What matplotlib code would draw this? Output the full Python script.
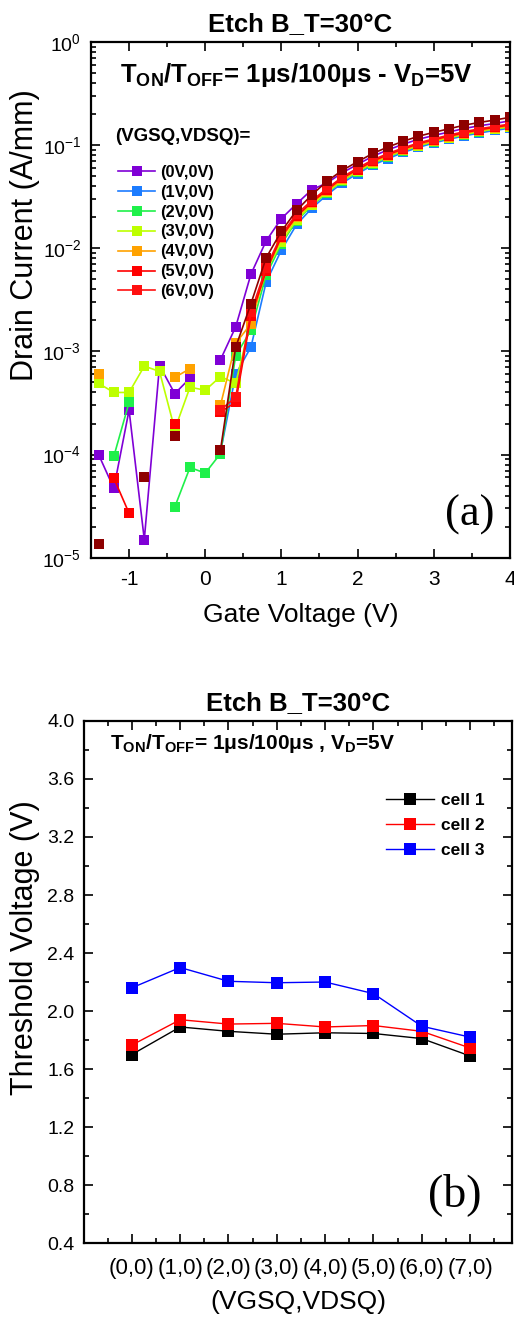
import numpy as np
import matplotlib
matplotlib.use("Agg")
import matplotlib.pyplot as plt
from matplotlib.ticker import MultipleLocator, LogLocator, NullFormatter, FormatStrFormatter
from matplotlib.lines import Line2D

plt.rcParams['font.family'] = ['Liberation Sans', 'DejaVu Sans']
plt.rcParams['mathtext.fontset'] = 'custom'
plt.rcParams['mathtext.rm'] = 'Liberation Sans'
plt.rcParams['mathtext.bf'] = 'Liberation Sans:bold'
plt.rcParams['axes.unicode_minus'] = False

nan = np.nan

# ---- panel (a): drain current vs gate voltage ----
gate_v = [-1.4, -1.2, -1.0, -0.8, -0.6, -0.4, -0.2, 0.0, 0.2, 0.4, 0.6, 0.8, 1.0, 1.2,
          1.4, 1.6, 1.8, 2.0, 2.2, 2.4, 2.6, 2.8, 3.0, 3.2, 3.4, 3.6, 3.8, 4.0]

id_0v = [1.0e-4, 4.7e-5, 2.7e-4, 1.5e-5, 7.3e-4, 3.9e-4, 5.5e-4, nan, 8.3e-4, 1.73e-3, 5.6e-3, 1.18e-2, 1.94e-2, 2.7e-2,
         3.7e-2, 4.3e-2, 5.4e-2, 6.5e-2, 7.8e-2, 9.0e-2, 0.102, 0.114, 0.124, 0.134, 0.145, 0.154, 0.162, 0.172]
id_1v = [nan, nan, nan, nan, nan, nan, nan, nan, 1.05e-4, 6.0e-4, 1.1e-3, 4.7e-3, 9.6e-3, 1.7e-2,
         2.45e-2, 3.3e-2, 4.3e-2, 5.3e-2, 6.4e-2, 7.4e-2, 8.5e-2, 9.5e-2, 0.105, 0.114, 0.123, 0.131, 0.139, 0.146]
id_2v = [nan, 9.6e-5, 3.2e-4, nan, nan, 3.1e-5, 7.5e-5, 6.6e-5, 1.02e-4, 9.1e-4, 1.6e-3, 5.5e-3, 1.1e-2, 1.85e-2,
         2.6e-2, 3.45e-2, 4.5e-2, 5.5e-2, 6.6e-2, 7.7e-2, 8.8e-2, 9.8e-2, 0.108, 0.117, 0.126, 0.135, 0.143, 0.150]
id_3v = [4.9e-4, 4.0e-4, 4.0e-4, 7.2e-4, 6.4e-4, 1.75e-4, 4.5e-4, 4.2e-4, 5.7e-4, 4.9e-4, 2.0e-3, 6.0e-3, 1.15e-2, 1.9e-2,
         2.65e-2, 3.5e-2, 4.55e-2, 5.6e-2, 6.7e-2, 7.8e-2, 8.9e-2, 9.9e-2, 0.109, 0.118, 0.127, 0.136, 0.144, 0.151]
id_4v = [6.1e-4, nan, nan, nan, nan, 5.6e-4, 6.8e-4, nan, 3.0e-4, 1.2e-3, 1.85e-3, 6.5e-3, 1.25e-2, 2.0e-2,
         2.75e-2, 3.6e-2, 4.65e-2, 5.7e-2, 6.8e-2, 7.9e-2, 9.0e-2, 0.100, 0.110, 0.120, 0.129, 0.138, 0.146, 0.153]
id_5v = [nan, 5.9e-5, 2.7e-5, nan, nan, 2.0e-4, nan, nan, 2.6e-4, 3.2e-4, 2.2e-3, 6.0e-3, 1.3e-2, 2.05e-2,
         2.8e-2, 3.7e-2, 4.8e-2, 5.8e-2, 7.0e-2, 8.1e-2, 9.2e-2, 0.103, 0.113, 0.122, 0.132, 0.141, 0.149, 0.157]
id_6v = [nan, nan, nan, nan, nan, nan, nan, nan, 2.7e-4, 3.6e-4, 2.4e-3, 6.5e-3, 1.35e-2, 2.15e-2,
         2.9e-2, 3.8e-2, 4.9e-2, 6.0e-2, 7.2e-2, 8.3e-2, 9.4e-2, 0.105, 0.115, 0.125, 0.135, 0.144, 0.152, 0.160]
id_7v = [1.35e-5, nan, nan, 6.0e-5, nan, 1.5e-4, nan, nan, 1.1e-4, 1.1e-3, 2.9e-3, 8.1e-3, 1.46e-2, 2.33e-2,
         3.3e-2, 4.47e-2, 5.7e-2, 6.9e-2, 8.3e-2, 9.6e-2, 0.109, 0.122, 0.133, 0.144, 0.156, 0.166, 0.175, 0.186]

series_a = [id_0v, id_1v, id_2v, id_3v, id_4v, id_5v, id_6v, id_7v]
labels_a = ['(0V,0V)', '(1V,0V)', '(2V,0V)', '(3V,0V)', '(4V,0V)', '(5V,0V)', '(6V,0V)', None]
colors_a = ['#7F00D6', '#1C7CFF', '#1FF04A', '#BDFF00', '#FFA200', '#FF0000', '#FF1010', '#8E0000']

# ---- panel (b): threshold voltage ----
bias_labels = ['(0,0)', '(1,0)', '(2,0)', '(3,0)', '(4,0)', '(5,0)', '(6,0)', '(7,0)']
vth_cell1 = [1.70, 1.89, 1.86, 1.84, 1.85, 1.845, 1.81, 1.69]
vth_cell2 = [1.765, 1.94, 1.91, 1.915, 1.89, 1.90, 1.86, 1.745]
vth_cell3 = [2.16, 2.30, 2.205, 2.195, 2.20, 2.12, 1.895, 1.82]
cell_names = ['cell 1', 'cell 2', 'cell 3']
cell_colors = ['black', '#FF0000', '#0000FF']

fig = plt.figure(figsize=(5.14, 13.2), dpi=100)
ax1 = fig.add_axes([0.177, 0.5775, 0.815, 0.3907])
ax2 = fig.add_axes([0.1634, 0.0583, 0.833, 0.3955])


def style_axes(ax):
    for s in ax.spines.values():
        s.set_linewidth(1.6)
    ax.tick_params(which='both', direction='in', top=True, right=True, width=1.2)
    ax.tick_params(which='major', length=6.5, labelsize=14, pad=7)
    ax.tick_params(which='minor', length=3.5)


# panel (a)
for vals, lab, col in zip(series_a, labels_a, colors_a):
    ax1.plot(gate_v, vals, color=col, marker='s', markersize=7.2, lw=1.2,
             markeredgewidth=0, label=lab if lab else '_nolegend_')
ax1.set_yscale('log')
ax1.set_xlim(-1.5, 4)
ax1.set_ylim(1e-5, 1)
ax1.xaxis.set_major_locator(MultipleLocator(1))
ax1.xaxis.set_minor_locator(MultipleLocator(0.5))
ax1.yaxis.set_major_locator(LogLocator(base=10, numticks=10))
ax1.yaxis.set_minor_locator(LogLocator(base=10, subs=np.arange(2, 10), numticks=10))
ax1.yaxis.set_minor_formatter(NullFormatter())
style_axes(ax1)
ax1.tick_params(axis='x', which='major', labelsize=15, pad=9)
ax1.set_xlabel('Gate Voltage (V)', fontsize=19, labelpad=10)
ax1.set_ylabel('Drain Current (A/mm)', fontsize=22)
ax1.yaxis.set_label_coords(-0.122, 0.626)
ax1.set_title('Etch B_T=30°C', fontsize=18.5, fontweight='bold', pad=8)
ax1.text(0.49, 0.936, r'T$_{\mathbf{ON}}$/T$_{\mathbf{OFF}}$= 1μs/100μs - V$_{\mathbf{D}}$=5V',
         transform=ax1.transAxes, ha='center', va='center', fontsize=18.5, fontweight='bold')
ax1.text(0.057, 0.816, '(VGSQ,VDSQ)=', transform=ax1.transAxes, ha='left', va='center',
         fontsize=13.5, fontweight='bold')
handles_a = [Line2D([], [], color=c, marker='s', markersize=7.2, lw=1.2, markeredgewidth=0)
             for c in colors_a[:7]]
ax1.legend(handles_a, labels_a[:7], loc='upper left', bbox_to_anchor=(0.064, 0.762),
           frameon=False, prop={'weight': 'bold', 'size': 11.8}, handlelength=2.3,
           handletextpad=0.3, labelspacing=0.3, borderpad=0, borderaxespad=0)
ax1.text(0.905, 0.083, '(a)', transform=ax1.transAxes, ha='center', va='center',
         fontsize=32, family='Liberation Serif')

# panel (b)
xpos = np.arange(len(bias_labels))
for vals, name, col in zip([vth_cell1, vth_cell2, vth_cell3], cell_names, cell_colors):
    ax2.plot(xpos, vals, color=col, marker='s', markersize=9, lw=1.0,
             markeredgewidth=0, label=name)
ax2.set_xlim(-0.99, 7.87)
ax2.set_ylim(0.4, 4.0)
ax2.set_xticks(xpos)
ax2.set_xticklabels(bias_labels)
ax2.xaxis.set_minor_locator(MultipleLocator(1, offset=0.5))
ax2.yaxis.set_major_locator(MultipleLocator(0.4))
ax2.yaxis.set_minor_locator(MultipleLocator(0.2))
ax2.yaxis.set_major_formatter(FormatStrFormatter('%.1f'))
style_axes(ax2)
ax2.tick_params(axis='x', which='major', labelsize=16, pad=11)
ax2.set_xlabel('(VGSQ,VDSQ)', fontsize=19, labelpad=8)
ax2.set_ylabel('Threshold Voltage (V)', fontsize=22)
ax2.yaxis.set_label_coords(-0.103, 0.565)
ax2.set_title('Etch B_T=30°C', fontsize=18.5, fontweight='bold', pad=8)
ax2.text(0.393, 0.956, r'T$_{\mathbf{ON}}$/T$_{\mathbf{OFF}}$= 1μs/100μs , V$_{\mathbf{D}}$=5V',
         transform=ax2.transAxes, ha='center', va='center', fontsize=15, fontweight='bold')
ax2.legend(loc='upper left', bbox_to_anchor=(0.705, 0.862), frameon=False,
           prop={'weight': 'bold', 'size': 12.5}, handlelength=2.8, handletextpad=0.4,
           labelspacing=0.55, borderpad=0, borderaxespad=0)
ax2.text(0.867, 0.092, '(b)', transform=ax2.transAxes, ha='center', va='center',
         fontsize=33, family='Liberation Serif')

fig.savefig('out.png', dpi=100)
